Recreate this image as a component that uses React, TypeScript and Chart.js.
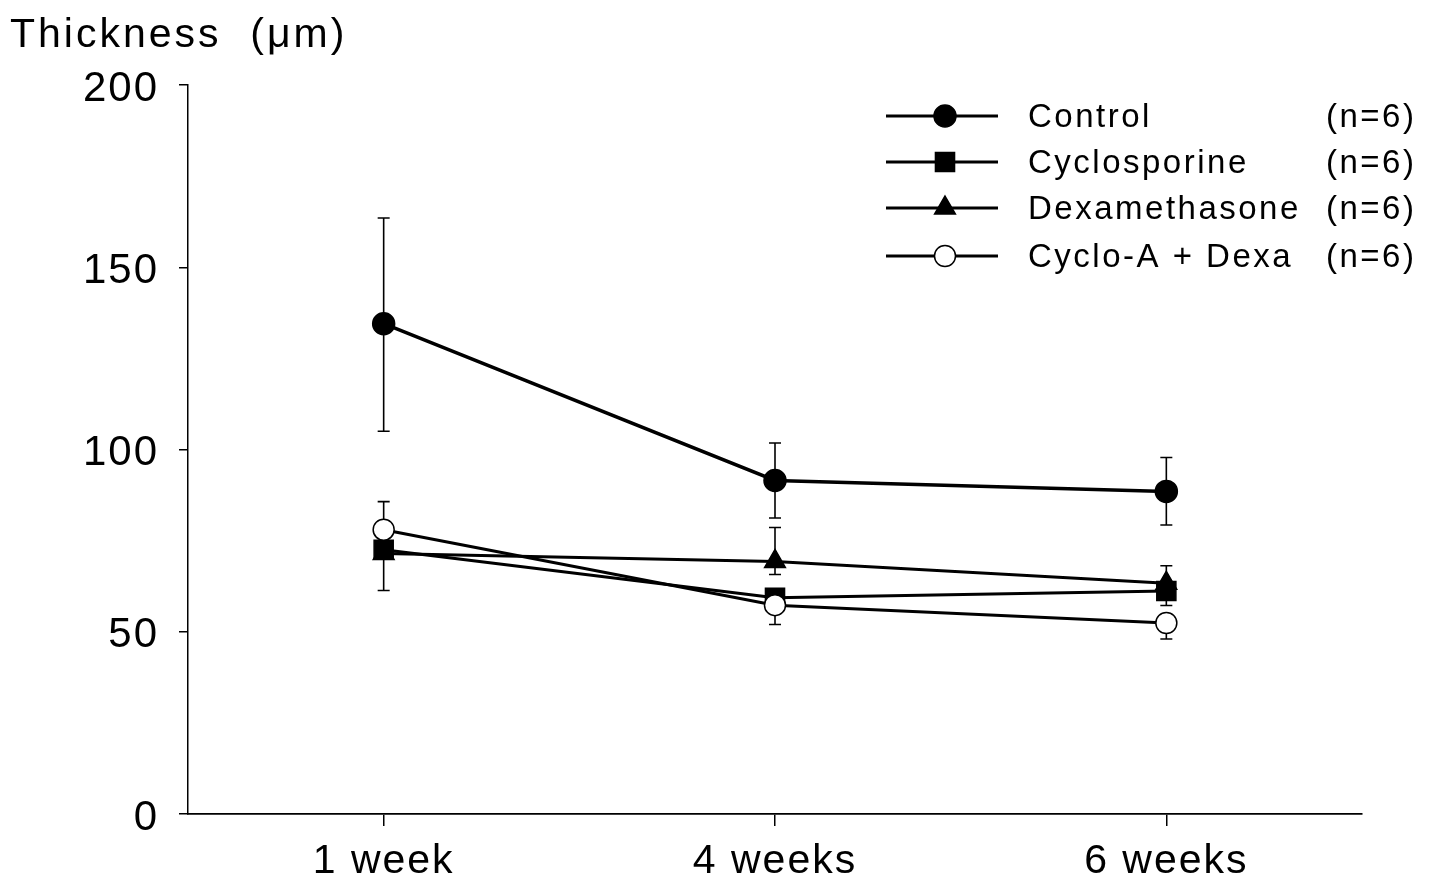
import React, { useEffect, useRef } from "react";
import { Chart, registerables } from "chart.js";

Chart.register(...registerables);

const categories = ["1 week", "4 weeks", "6 weeks"];

const seriesNames = ["Control", "Cyclosporine", "Dexamethasone", "Cyclo-A + Dexa"];
const seriesN = ["(n=6)", "(n=6)", "(n=6)", "(n=6)"];

const control = [134.5, 91.5, 88.5];
const controlErrUp = [29, 10.3, 9.3];
const controlErrDown = [29.5, 10.3, 9.2];

const cyclosporine = [72.5, 59.3, 61.2];
const cycloErrUp = [0, 0, 0];
const cycloErrDown = [11.2, 0, 4];

const dexamethasone = [71.5, 69.3, 63.3];
const dexaErrUp = [0, 9.3, 4.8];
const dexaErrDown = [0, 3.6, 0];

const combo = [78, 57.3, 52.4];
const comboErrUp = [7.7, 0, 0];
const comboErrDown = [0, 5.3, 4.4];

const yTicks = [0, 50, 100, 150, 200];

const FONT = "'Liberation Sans', Arial, Helvetica, sans-serif";

const errorBarPlugin = {
  id: "errorBars",
  beforeDatasetsDraw(chart: any) {
    const ctx = chart.ctx;
    const y = chart.scales.y;
    ctx.save();
    ctx.strokeStyle = "#000";
    ctx.lineWidth = 1.6;
    chart.data.datasets.forEach((ds: any, i: number) => {
      const meta = chart.getDatasetMeta(i);
      meta.data.forEach((pt: any, j: number) => {
        const v = ds.data[j];
        const up = ds.errUp[j];
        const down = ds.errDown[j];
        const x = pt.x;
        const cap = 6;
        if (up > 0) {
          const yt = y.getPixelForValue(v + up);
          ctx.beginPath();
          ctx.moveTo(x, pt.y);
          ctx.lineTo(x, yt);
          ctx.moveTo(x - cap, yt);
          ctx.lineTo(x + cap, yt);
          ctx.stroke();
        }
        if (down > 0) {
          const yb = y.getPixelForValue(v - down);
          ctx.beginPath();
          ctx.moveTo(x, pt.y);
          ctx.lineTo(x, yb);
          ctx.moveTo(x - cap, yb);
          ctx.lineTo(x + cap, yb);
          ctx.stroke();
        }
      });
    });
    ctx.restore();
  },
};

const spacingPlugin = {
  id: "spacing",
  beforeDraw(chart: any) {
    (chart.ctx as any).letterSpacing = "2px";
  },
  afterDraw(chart: any) {
    (chart.ctx as any).letterSpacing = "0px";
  },
};

function drawMarker(ctx: CanvasRenderingContext2D, style: string, x: number, y: number, r: number, fill: string) {
  ctx.beginPath();
  if (style === "circle") {
    ctx.arc(x, y, r, 0, Math.PI * 2);
  } else if (style === "rect") {
    const s = Math.SQRT1_2 * r;
    ctx.rect(x - s, y - s, 2 * s, 2 * s);
  } else if (style === "triangle") {
    ctx.moveTo(x, y - r);
    ctx.lineTo(x + r * 0.866, y + r * 0.5);
    ctx.lineTo(x - r * 0.866, y + r * 0.5);
    ctx.closePath();
  }
  ctx.fillStyle = fill;
  ctx.fill();
  ctx.lineWidth = 1.5;
  ctx.strokeStyle = "#000";
  ctx.stroke();
}

const legendTitlePlugin = {
  id: "legendTitle",
  afterDraw(chart: any) {
    const ctx = chart.ctx as any;
    ctx.save();
    ctx.letterSpacing = "3px";
    ctx.font = `41px ${FONT}`;
    ctx.fillStyle = "#000";
    ctx.textBaseline = "alphabetic";
    ctx.textAlign = "left";
    ctx.fillText("Thickness  (\u03bcm)", 10, 47);

    const rows = [116, 162, 208, 256];
    chart.data.datasets.forEach((ds: any, i: number) => {
      const yy = rows[i];
      ctx.letterSpacing = "0px";
      ctx.strokeStyle = "#000";
      ctx.lineWidth = 3;
      ctx.beginPath();
      ctx.moveTo(886, yy);
      ctx.lineTo(998, yy);
      ctx.stroke();
      drawMarker(ctx, ds.pointStyle, 945, yy, ds.pointRadius, ds.pointBackgroundColor);
      ctx.letterSpacing = "2.5px";
      ctx.font = `33px ${FONT}`;
      ctx.fillStyle = "#000";
      ctx.textBaseline = "middle";
      ctx.textAlign = "left";
      ctx.fillText(seriesNames[i], 1028, yy + 2);
      ctx.fillText(seriesN[i], 1326, yy + 2);
    });
    ctx.restore();
  },
};

export default function App() {
  const ref = useRef<HTMLCanvasElement | null>(null);

  useEffect(() => {
    document.body.style.margin = "0";
    document.body.style.background = "#fff";
    const canvas = ref.current;
    if (!canvas) return;
    const common = {
      borderColor: "#000",
      borderWidth: 3,
      pointBorderColor: "#000",
      pointBorderWidth: 1.5,
      fill: false,
      tension: 0,
    };
    const chart = new Chart(canvas, {
      type: "line",
      data: {
        labels: categories,
        datasets: [
          {
            ...common,
            label: seriesNames[0],
            data: control,
            errUp: controlErrUp,
            errDown: controlErrDown,
            pointStyle: "circle",
            pointRadius: 11,
            pointBackgroundColor: "#000",
            borderWidth: 3.5,
            order: 1,
          } as any,
          {
            ...common,
            label: seriesNames[1],
            data: cyclosporine,
            errUp: cycloErrUp,
            errDown: cycloErrDown,
            pointStyle: "rect",
            pointRadius: 13.5,
            pointBackgroundColor: "#000",
            order: 3,
          } as any,
          {
            ...common,
            label: seriesNames[2],
            data: dexamethasone,
            errUp: dexaErrUp,
            errDown: dexaErrDown,
            pointStyle: "triangle",
            pointRadius: 12,
            pointBackgroundColor: "#000",
            order: 4,
          } as any,
          {
            ...common,
            label: seriesNames[3],
            data: combo,
            errUp: comboErrUp,
            errDown: comboErrDown,
            pointStyle: "circle",
            pointRadius: 10.5,
            pointBackgroundColor: "#fff",
            order: 2,
          } as any,
        ],
      },
      options: {
        responsive: false,
        animation: false,
        layout: { padding: { left: 0, right: 69, top: 85, bottom: 0 } },
        plugins: {
          legend: { display: false },
          title: { display: false },
          tooltip: { enabled: false },
        },
        scales: {
          x: {
            type: "category",
            offset: true,
            grid: {
              display: true,
              drawOnChartArea: false,
              drawTicks: true,
              tickLength: 12,
              color: "#000",
              lineWidth: 1.5,
              offset: false,
            },
            border: { display: true, color: "#000", width: 1.8 },
            ticks: {
              color: "#000",
              font: { family: FONT, size: 41 },
              padding: 11,
              maxRotation: 0,
            },
            afterFit(scale: any) {
              scale.height = 70;
            },
          },
          y: {
            type: "linear",
            min: 0,
            max: 200,
            afterBuildTicks(scale: any) {
              scale.ticks = yTicks.map((v) => ({ value: v }));
            },
            grid: {
              display: true,
              drawOnChartArea: false,
              drawTicks: true,
              tickLength: 9,
              color: "#000",
              lineWidth: 1.5,
            },
            border: { display: true, color: "#000", width: 1.5 },
            ticks: {
              color: "#000",
              font: { family: FONT, size: 42 },
              padding: 20,
              labelOffset: 4,
            },
            afterFit(scale: any) {
              scale.width = 188;
            },
          },
        },
      },
      plugins: [spacingPlugin, errorBarPlugin, legendTitlePlugin],
    });
    return () => chart.destroy();
  }, []);

  return (
    <div style={{ width: 1431, height: 884, background: "#fff" }}>
      <canvas ref={ref} width={1431} height={884} style={{ display: "block" }} />
    </div>
  );
}
